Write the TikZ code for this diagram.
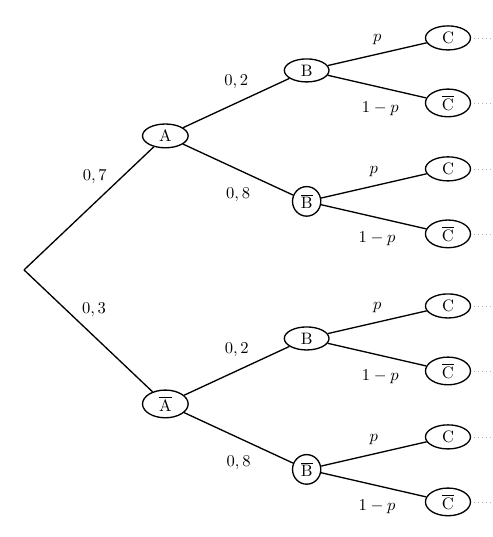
\documentclass[tikz,border=0pt]{standalone}
\usetikzlibrary{shapes.geometric}
\begin{document}
\begin{tikzpicture}[
        grow'=right,
        level 1/.style={sibling distance=5.69cm},
        level 2/.style={sibling distance=2.78cm},
        level 3/.style={sibling distance=1.38cm},
        level distance=3cm,
        edge from parent/.style={draw, thick},
        event_node/.style={ellipse, draw, thick, inner xsep=6pt, inner ysep=1.5pt},
        bar_node/.style={ellipse, draw, thick, inner xsep=2.5pt, inner ysep=1.9pt},
        up_label/.style={above=#1},
        down_label/.style={below=#1}
    ]
        \useasboundingbox (-0.51,-5.67) rectangle (9.94,5.73);
        % Koren
        \coordinate (O)
            % Vetev A
            child { node[event_node] (A) {A}
                child { node[event_node] (AB) {B}
                    child { node[event_node] (c1) {C} edge from parent node[up_label=2pt] {$p$} }
                    child { node[event_node] (c2) {$\overline{\mathrm{C}}$} edge from parent node[down_label=5.5pt, xshift=2pt] {$1-p$} }
                    edge from parent node[up_label=5pt] {$0,2$}
                }
                child { node[bar_node] (ABbar) {$\overline{\mathrm{B}}$}
                    child { node[event_node] (c3) {C} edge from parent node[up_label=2pt] {$p$} }
                    child { node[event_node] (c4) {$\overline{\mathrm{C}}$} edge from parent node[down_label=5.5pt, xshift=2pt] {$1-p$} }
                    edge from parent node[down_label=7pt] {$0,8$}
                }
                edge from parent node[up_label=11pt, xshift=3.5pt] {$0,7$}
            }
            % Vetev A s pruhem
            child { node[event_node] (Abar) {$\overline{\mathrm{A}}$}
                child { node[event_node] (AbarB) {B}
                    child { node[event_node] (c5) {C} edge from parent node[up_label=2pt] {$p$} }
                    child { node[event_node] (c6) {$\overline{\mathrm{C}}$} edge from parent node[down_label=5.5pt, xshift=2pt] {$1-p$} }
                    edge from parent node[up_label=5pt] {$0,2$}
                }
                child { node[bar_node] (AbarBbar) {$\overline{\mathrm{B}}$}
                    child { node[event_node] (c7) {C} edge from parent node[up_label=2pt] {$p$} }
                    child { node[event_node] (c8) {$\overline{\mathrm{C}}$} edge from parent node[down_label=5.5pt, xshift=2pt] {$1-p$} }
                    edge from parent node[down_label=7pt] {$0,8$}
                }
                edge from parent node[up_label=5pt, xshift=3.5pt] {$0,3$}
            };
        % Pokracovani
        \foreach \i in {1,...,8}
            \draw[dotted, gray!60] ([xshift=2pt]c\i.east) -- ++(0.6,0);
    \end{tikzpicture}
\end{document}
